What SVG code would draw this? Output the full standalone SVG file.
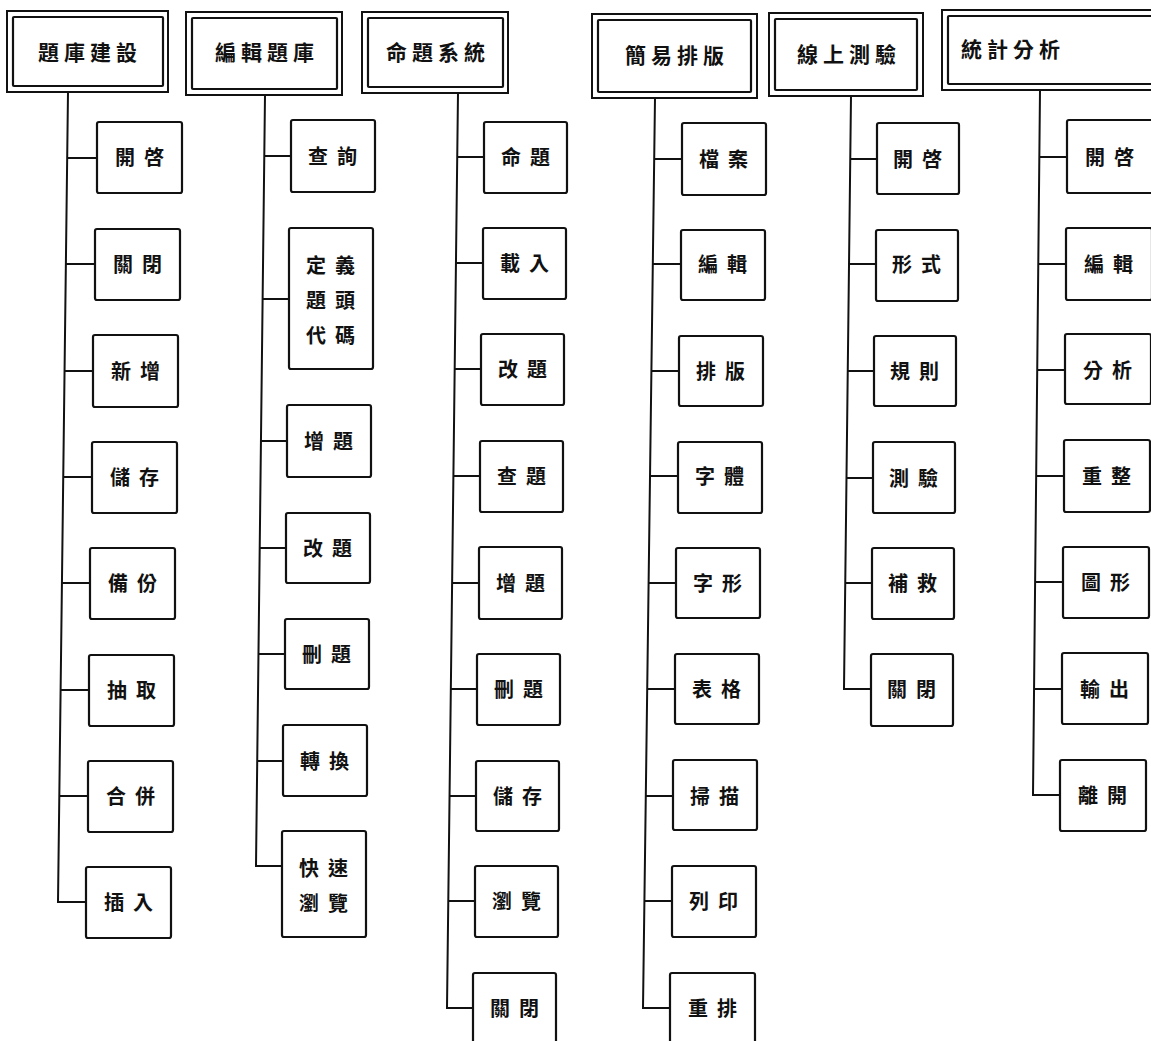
<svg xmlns="http://www.w3.org/2000/svg" width="1151" height="1041" viewBox="0 0 1151 1041">
<style>
.bg{fill:#fff}
.box{fill:#fff;stroke:#111;stroke-width:2.2}
.ho{fill:#fff;stroke:#111;stroke-width:2}
.hi{fill:none;stroke:#111;stroke-width:2.2}
.c{fill:none;stroke:#111;stroke-width:2}
.t{font-family:"Noto Sans CJK TC","Noto Sans CJK SC",sans-serif;font-size:20px;font-weight:700;letter-spacing:9px;text-anchor:middle;fill:#111}
.h{font-family:"Noto Sans CJK TC","Noto Sans CJK SC",sans-serif;font-size:21px;font-weight:700;letter-spacing:5px;text-anchor:middle;fill:#111}
</style>
<rect class="bg" x="0" y="0" width="1151" height="1041"/>
<g id="connectors">
<path class="c" d="M68,92 L58,902 H86 M67.2,158 H97 M65.9,264 H95 M64.6,371 H93 M63.2,477 H92 M61.9,583 H90 M60.6,690 H89 M59.3,796 H88"/>
<path class="c" d="M265,95 L256,866 H282 M264.3,156 H291 M262.6,299 H289 M261,441 H287 M259.7,548 H286 M258.5,654 H285 M257.2,761 H283"/>
<path class="c" d="M458,93 L447,1008 H473 M457.2,157 H484 M456,263 H483 M454.7,369 H481 M453.4,476 H480 M452.1,583 H479 M450.8,689 H477 M449.5,796 H476 M448.3,901 H475"/>
<path class="c" d="M655,98 L643,1008 H670 M654.2,159 H682 M652.8,264 H681 M651.4,371 H679 M650,476 H678 M648.6,583 H676 M647.2,689 H675 M645.8,796 H673 M644.4,901 H672"/>
<path class="c" d="M851,96 L844,689 H871 M850.3,159 H877 M849,264 H876 M847.8,371 H874 M846.5,478 H873 M845.3,583 H872"/>
<path class="c" d="M1040,90 L1033,795 H1060 M1039.3,157 H1067 M1038.3,264 H1066 M1037.2,370 H1065 M1036.2,476 H1064 M1035.1,582 H1063 M1034.1,689 H1062"/>
</g>
<g id="h1"><rect class="ho" x="7" y="11" width="161" height="81"/><rect class="hi" x="13" y="17" width="150" height="69" rx="1"/><text class="h" x="90" y="60">題庫建設</text></g>
<g id="h2"><rect class="ho" x="186" y="12" width="156" height="83"/><rect class="hi" x="192" y="18" width="145" height="71" rx="1"/><text class="h" x="267" y="60">編輯題庫</text></g>
<g id="h3"><rect class="ho" x="362" y="12" width="146" height="81"/><rect class="hi" x="368" y="18" width="135" height="69" rx="1"/><text class="h" x="438" y="60">命題系統</text></g>
<g id="h4"><rect class="ho" x="592" y="14" width="165" height="84"/><rect class="hi" x="598" y="20" width="153" height="72" rx="1"/><text class="h" x="677" y="63">簡易排版</text></g>
<g id="h5"><rect class="ho" x="769" y="13" width="154" height="83"/><rect class="hi" x="775" y="19" width="142" height="71" rx="1"/><text class="h" x="849" y="62">線上測驗</text></g>
<g id="h6"><rect class="ho" x="942" y="10" width="220" height="80"/><rect class="hi" x="948" y="16" width="210" height="68" rx="1"/><text class="h" x="1013" y="57">統計分析</text></g>

<g id="c1n1"><rect class="box" x="97" y="122" width="85" height="71" rx="2"/><text class="t" x="144" y="165">開啓</text></g>
<g id="c1n2"><rect class="box" x="95" y="229" width="85" height="71" rx="2"/><text class="t" x="142" y="272">關閉</text></g>
<g id="c1n3"><rect class="box" x="93" y="335" width="85" height="72" rx="2"/><text class="t" x="140" y="379">新增</text></g>
<g id="c1n4"><rect class="box" x="92" y="442" width="85" height="71" rx="2"/><text class="t" x="139" y="485">儲存</text></g>
<g id="c1n5"><rect class="box" x="90" y="548" width="85" height="71" rx="2"/><text class="t" x="137" y="591">備份</text></g>
<g id="c1n6"><rect class="box" x="89" y="655" width="85" height="71" rx="2"/><text class="t" x="136" y="698">抽取</text></g>
<g id="c1n7"><rect class="box" x="88" y="761" width="85" height="71" rx="2"/><text class="t" x="135" y="804">合併</text></g>
<g id="c1n8"><rect class="box" x="86" y="867" width="85" height="71" rx="2"/><text class="t" x="133" y="910">插入</text></g>

<g id="c2n1"><rect class="box" x="291" y="120" width="84" height="72" rx="2"/><text class="t" x="337" y="164">查詢</text></g>
<g id="c2n2"><rect class="box" x="289" y="228" width="84" height="141" rx="2"/><text class="t" x="335" y="273">定義</text><text class="t" x="335" y="308">題頭</text><text class="t" x="335" y="343">代碼</text></g>
<g id="c2n3"><rect class="box" x="287" y="405" width="84" height="72" rx="2"/><text class="t" x="333" y="449">增題</text></g>
<g id="c2n4"><rect class="box" x="286" y="513" width="84" height="70" rx="2"/><text class="t" x="332" y="556">改題</text></g>
<g id="c2n5"><rect class="box" x="285" y="619" width="84" height="70" rx="2"/><text class="t" x="331" y="662">刪題</text></g>
<g id="c2n6"><rect class="box" x="283" y="725" width="84" height="71" rx="2"/><text class="t" x="329" y="769">轉換</text></g>
<g id="c2n7"><rect class="box" x="282" y="831" width="84" height="106" rx="2"/><text class="t" x="328" y="876">快速</text><text class="t" x="328" y="911">瀏覽</text></g>

<g id="c3n1"><rect class="box" x="484" y="122" width="83" height="71" rx="2"/><text class="t" x="530" y="165">命題</text></g>
<g id="c3n2"><rect class="box" x="483" y="228" width="83" height="71" rx="2"/><text class="t" x="529" y="271">載入</text></g>
<g id="c3n3"><rect class="box" x="481" y="334" width="83" height="71" rx="2"/><text class="t" x="527" y="377">改題</text></g>
<g id="c3n4"><rect class="box" x="480" y="441" width="83" height="71" rx="2"/><text class="t" x="526" y="484">查題</text></g>
<g id="c3n5"><rect class="box" x="479" y="547" width="83" height="72" rx="2"/><text class="t" x="525" y="591">增題</text></g>
<g id="c3n6"><rect class="box" x="477" y="654" width="83" height="71" rx="2"/><text class="t" x="523" y="697">刪題</text></g>
<g id="c3n7"><rect class="box" x="476" y="761" width="83" height="70" rx="2"/><text class="t" x="522" y="804">儲存</text></g>
<g id="c3n8"><rect class="box" x="475" y="866" width="83" height="71" rx="2"/><text class="t" x="521" y="909">瀏覽</text></g>
<g id="c3n9"><rect class="box" x="473" y="973" width="83" height="80" rx="2"/><text class="t" x="519" y="1016">關閉</text></g>

<g id="c4n1"><rect class="box" x="682" y="123" width="84" height="72" rx="2"/><text class="t" x="728" y="167">檔案</text></g>
<g id="c4n2"><rect class="box" x="681" y="230" width="84" height="70" rx="2"/><text class="t" x="727" y="272">編輯</text></g>
<g id="c4n3"><rect class="box" x="679" y="336" width="84" height="70" rx="2"/><text class="t" x="725" y="379">排版</text></g>
<g id="c4n4"><rect class="box" x="678" y="442" width="84" height="71" rx="2"/><text class="t" x="724" y="484">字體</text></g>
<g id="c4n5"><rect class="box" x="676" y="548" width="84" height="70" rx="2"/><text class="t" x="722" y="591">字形</text></g>
<g id="c4n6"><rect class="box" x="675" y="654" width="84" height="70" rx="2"/><text class="t" x="721" y="697">表格</text></g>
<g id="c4n7"><rect class="box" x="673" y="760" width="84" height="70" rx="2"/><text class="t" x="719" y="804">掃描</text></g>
<g id="c4n8"><rect class="box" x="672" y="866" width="84" height="71" rx="2"/><text class="t" x="718" y="909">列印</text></g>
<g id="c4n9"><rect class="box" x="670" y="973" width="85" height="80" rx="2"/><text class="t" x="717" y="1016">重排</text></g>

<g id="c5n1"><rect class="box" x="877" y="123" width="82" height="71" rx="2"/><text class="t" x="922" y="167">開啓</text></g>
<g id="c5n2"><rect class="box" x="876" y="230" width="82" height="71" rx="2"/><text class="t" x="921" y="272">形式</text></g>
<g id="c5n3"><rect class="box" x="874" y="336" width="82" height="70" rx="2"/><text class="t" x="919" y="379">規則</text></g>
<g id="c5n4"><rect class="box" x="873" y="442" width="82" height="71" rx="2"/><text class="t" x="918" y="486">測驗</text></g>
<g id="c5n5"><rect class="box" x="872" y="548" width="82" height="71" rx="2"/><text class="t" x="917" y="591">補救</text></g>
<g id="c5n6"><rect class="box" x="871" y="654" width="82" height="72" rx="2"/><text class="t" x="916" y="697">關閉</text></g>

<g id="c6n1"><rect class="box" x="1067" y="120" width="86" height="73" rx="2"/><text class="t" x="1114" y="165">開啓</text></g>
<g id="c6n2"><rect class="box" x="1066" y="228" width="86" height="72" rx="2"/><text class="t" x="1113" y="272">編輯</text></g>
<g id="c6n3"><rect class="box" x="1065" y="334" width="86" height="70" rx="2"/><text class="t" x="1112" y="378">分析</text></g>
<g id="c6n4"><rect class="box" x="1064" y="440" width="86" height="72" rx="2"/><text class="t" x="1111" y="484">重整</text></g>
<g id="c6n5"><rect class="box" x="1063" y="547" width="86" height="71" rx="2"/><text class="t" x="1110" y="590">圖形</text></g>
<g id="c6n6"><rect class="box" x="1062" y="653" width="86" height="71" rx="2"/><text class="t" x="1109" y="697">輸出</text></g>
<g id="c6n7"><rect class="box" x="1060" y="760" width="86" height="71" rx="2"/><text class="t" x="1107" y="803">離開</text></g>
</svg>
